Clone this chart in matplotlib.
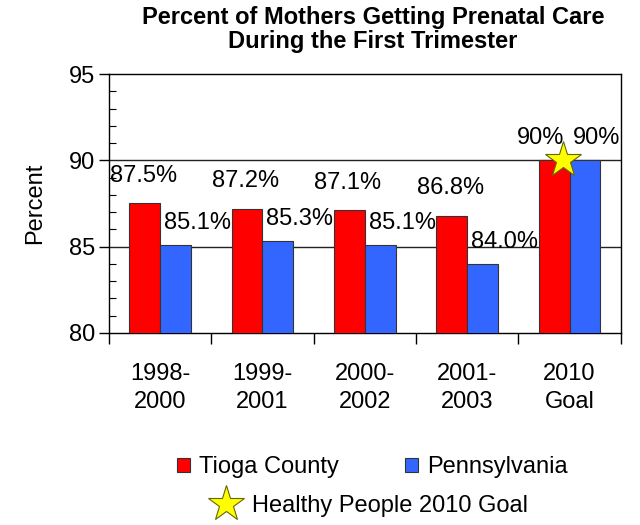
import matplotlib
matplotlib.use("Agg")
import matplotlib.pyplot as plt
from matplotlib.patches import Patch
from matplotlib.lines import Line2D
import numpy as np

plt.rcParams['font.family'] = ['Liberation Sans', 'DejaVu Sans']

# data
periods = ['1998-\n2000', '1999-\n2001', '2000-\n2002', '2001-\n2003', '2010\nGoal']
tioga = [87.5, 87.2, 87.1, 86.8, 90]
penn = [85.1, 85.3, 85.1, 84.0, 90]
tioga_txt = ['87.5%', '87.2%', '87.1%', '86.8%', '90%']
penn_txt = ['85.1%', '85.3%', '85.1%', '84.0%', '90%']
goal_x = 4
goal_val = 90

red = '#FF0000'
blue = '#3366FF'
edge = '#333333'

fig = plt.figure(figsize=(6.4, 5.25), dpi=100)
ax = fig.add_axes([0.170, 0.366, 0.800, 0.493])

x = np.arange(len(periods))
w = 0.3
ax.bar(x - w / 2, tioga, w, color=red, edgecolor=edge, linewidth=0.8, zorder=3)
ax.bar(x + w / 2, penn, w, color=blue, edgecolor=edge, linewidth=0.8, zorder=3)

ax.set_ylim(80, 95)
ax.set_xlim(-0.5, len(periods) - 0.5)
for g in [85, 90]:
    ax.axhline(g, color='#222222', linewidth=1, zorder=1)

# value labels, offset like the excel original
for i in range(len(x)):
    if i < 4:
        dxr, dxb, dyr, dyb = -1, 16, 20, 16
    else:
        dxr, dxb, dyr, dyb = -10, 8, 16, 16
    ax.annotate(tioga_txt[i], (x[i] - w / 2, tioga[i]), xytext=(dxr, dyr),
                textcoords='offset points', ha='center', va='center', fontsize=17, zorder=5)
    ax.annotate(penn_txt[i], (x[i] + w / 2, penn[i]), xytext=(dxb, dyb),
                textcoords='offset points', ha='center', va='center', fontsize=17, zorder=5)

ax.plot([goal_x - 0.06], [goal_val], marker='*', markersize=27, color='#FFFF00',
        markeredgecolor='#666600', markeredgewidth=0.8, linestyle='none', zorder=6)

ax.set_yticks([80, 85, 90, 95])
ax.set_yticks(np.arange(80, 96, 1), minor=True)
ax.tick_params(axis='y', which='major', direction='out', length=7, width=1, labelsize=17, pad=3)
ax.tick_params(axis='y', which='minor', direction='in', length=5, width=0.8)
ax.set_xticks(x)
ax.set_xticklabels(periods, fontsize=17, linespacing=1.3)
ax.set_xticks(np.arange(-0.5, len(periods), 1), minor=True)
ax.tick_params(axis='x', which='major', length=0, pad=22)
ax.tick_params(axis='x', which='minor', direction='out', length=8, width=1)
for s in ax.spines.values():
    s.set_linewidth(1)
    s.set_color('black')

ax.set_ylabel('Percent', fontsize=17, labelpad=16)
fig.text(0.583, 0.988, 'Percent of Mothers Getting Prenatal Care\nDuring the First Trimester',
         ha='center', va='top', fontsize=17, fontweight='bold', linespacing=1.05)

h1 = [Patch(facecolor=red, edgecolor=edge, linewidth=0.8, label='Tioga County'),
      Patch(facecolor=blue, edgecolor=edge, linewidth=0.8, label='Pennsylvania')]
fig.legend(handles=h1, loc='center', bbox_to_anchor=(0.582, 0.11), ncol=2, frameon=False,
           fontsize=17, handlelength=0.55, handleheight=0.55, handletextpad=0.4, columnspacing=2.8)
h2 = [Line2D([], [], marker='*', markersize=27, color='#FFFF00', markeredgecolor='#666600',
             markeredgewidth=0.8, linestyle='none', label='Healthy People 2010 Goal')]
fig.legend(handles=h2, loc='center', bbox_to_anchor=(0.571, 0.036), frameon=False,
           fontsize=17, handletextpad=0.1)

fig.savefig('out.png', dpi=100)
